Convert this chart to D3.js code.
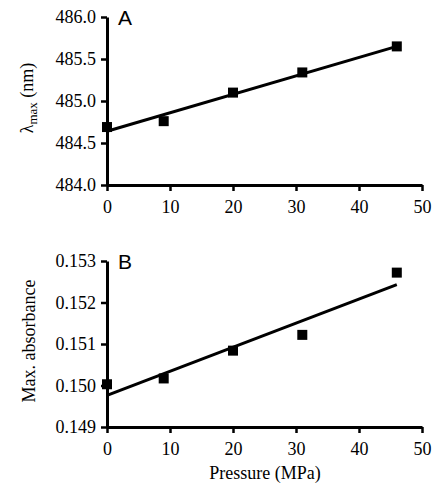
<!DOCTYPE html>
<html lang="en">
<head>
    <meta charset="UTF-8">
    <title>Pressure dependence of lambda max and absorbance</title>
    <script src="https://d3js.org/d3.v7.min.js"></script>
    <style>
        body { margin: 0; background: #fff; }
        svg { display: block; }
    </style>
</head>
<body>
    <svg id="chart" width="432" height="484"></svg>

    <script>
        // data
        const pressure = [0, 9, 20, 31, 46];
        const lambdaMax = [484.69, 484.76, 485.10, 485.34, 485.65];
        const absorbance = [0.15003, 0.15017, 0.15084, 0.15122, 0.15272];

        // fitted trend lines (values at start and end pressure)
        const fitPressure = [0, 46];
        const fitLambda = [484.64, 485.65];
        const fitAbsorbance = [0.14976, 0.15243];

        const xTicks = [0, 10, 20, 30, 40, 50];
        const lambdaTicks = [484.0, 484.5, 485.0, 485.5, 486.0];
        const absTicks = [0.149, 0.150, 0.151, 0.152, 0.153];

        const serif = "'Liberation Serif', 'Times New Roman', Times, serif";
        const sans = "'Liberation Sans', Arial, sans-serif";

        const svg = d3.select("#chart");

        const left = 107, right = 422;

        function drawPanel(opts) {
            const x = d3.scaleLinear().domain([0, 50]).range([left, right]);
            const y = d3.scaleLinear().domain(opts.domain).range([opts.bottom, opts.top]);

            const g = svg.append("g");

            const xAxis = g.append("g")
                .attr("transform", `translate(0,${opts.bottom})`)
                .call(d3.axisBottom(x).tickValues(xTicks).tickSize(6).tickPadding(9).tickSizeOuter(0));

            const yAxis = g.append("g")
                .attr("transform", `translate(${left},0)`)
                .call(d3.axisLeft(y).tickValues(opts.ticks).tickFormat(d3.format(opts.fmt))
                    .tickSize(6).tickPadding(5).tickSizeOuter(0));

            [xAxis, yAxis].forEach(a => {
                a.attr("font-family", serif).attr("font-size", 18);
                a.select(".domain").attr("stroke", "#000").attr("stroke-width", 3);
                a.selectAll(".tick line").attr("stroke", "#000").attr("stroke-width", 2.5);
                a.selectAll(".tick text")
                    .style("font-family", serif)
                    .style("font-size", "18px")
                    .attr("fill", "#000");
            });

            // trend line
            const line = d3.line().x(d => x(d[0])).y(d => y(d[1]));
            g.append("path")
                .datum(d3.zip(fitPressure, opts.fit))
                .attr("d", line)
                .attr("fill", "none")
                .attr("stroke", "#000")
                .attr("stroke-width", 3);

            // square markers
            const s = 10;
            g.selectAll("rect.pt")
                .data(d3.zip(pressure, opts.values))
                .enter().append("rect")
                .attr("class", "pt")
                .attr("x", d => x(d[0]) - s / 2)
                .attr("y", d => y(d[1]) - s / 2)
                .attr("width", s)
                .attr("height", s)
                .attr("fill", "#000");

            g.append("text")
                .style("font-family", sans)
                .style("font-size", "21px")
                .attr("x", 118)
                .attr("y", opts.top + 7.5)
                .text(opts.letter);

            return { x, y, g };
        }

        drawPanel({
            domain: [484, 486], top: 17, bottom: 185,
            ticks: lambdaTicks, fmt: ".1f",
            values: lambdaMax, fit: fitLambda, letter: "A"
        });

        drawPanel({
            domain: [0.149, 0.153], top: 261, bottom: 427,
            ticks: absTicks, fmt: ".3f",
            values: absorbance, fit: fitAbsorbance, letter: "B"
        });

        // axis titles
        const lt = svg.append("text")
            .style("font-family", serif)
            .style("font-size", "18px")
            .attr("transform", "translate(33,98) rotate(-90)")
            .attr("text-anchor", "middle");
        lt.append("tspan").text("\u03bb");
        lt.append("tspan").attr("dy", 4).style("font-size", "13px").text("max");
        lt.append("tspan").attr("dy", -4).text(" (nm)");

        svg.append("text")
            .style("font-family", serif)
            .style("font-size", "18px")
            .attr("transform", "translate(35,341) rotate(-90)")
            .attr("text-anchor", "middle")
            .text("Max. absorbance");

        svg.append("text")
            .style("font-family", serif)
            .style("font-size", "18px")
            .attr("x", 265)
            .attr("y", 479)
            .attr("text-anchor", "middle")
            .text("Pressure (MPa)");
    </script>
</body>
</html>
